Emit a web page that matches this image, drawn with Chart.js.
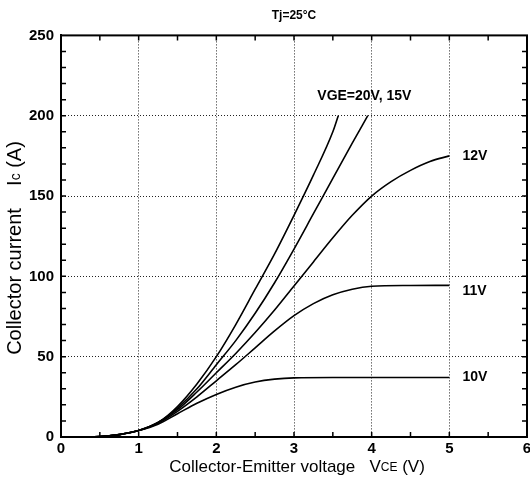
<!DOCTYPE html>
<html>
<head>
<meta charset="utf-8">
<script src="https://cdn.jsdelivr.net/npm/chart.js@4.4.0/dist/chart.umd.min.js"></script>
<style>
  html, body { margin: 0; padding: 0; background: #fff; }
  canvas { display: block; }
</style>
</head>
<body>
<canvas id="grafico" width="530" height="486"></canvas>
<script>
// DADOS (Vce em V, Ic em A)
const vce20 = [0, 0.5, 0.75, 1, 1.25, 1.5, 1.75, 2, 2.25, 2.5, 2.75, 3, 3.25, 3.5, 3.57];
const ic20  = [0, 0.3, 1.5, 4, 9, 19, 33, 50, 70, 92, 114, 138, 163, 190, 200];

const vce15 = [0, 0.5, 0.75, 1, 1.25, 1.5, 1.75, 2, 2.25, 2.5, 2.75, 3, 3.25, 3.5, 3.75, 3.95];
const ic15  = [0, 0.3, 1.5, 4, 9, 18, 30, 45, 60, 77, 96, 117, 139, 161, 183, 200];

const vce12 = [0, 0.5, 0.75, 1, 1.25, 1.5, 1.75, 2, 2.25, 2.5, 2.75, 3, 3.25, 3.5, 3.75, 4, 4.25, 4.5, 4.75, 5];
const ic12  = [0, 0.3, 1.5, 4, 9, 17, 28, 40, 52, 65, 79, 94, 109, 124, 138, 150, 159, 166, 171.5, 175];

const vce11 = [0, 0.5, 0.75, 1, 1.25, 1.5, 1.75, 2, 2.25, 2.5, 2.75, 3, 3.25, 3.5, 3.75, 4, 4.5, 5];
const ic11  = [0, 0.3, 1.5, 4, 8.5, 16, 25, 35, 45, 55.5, 66, 75.5, 83, 88.5, 92, 93.8, 94.3, 94.4];

const vce10 = [0, 0.5, 0.75, 1, 1.25, 1.5, 1.75, 2, 2.25, 2.5, 2.75, 3, 3.5, 4, 4.5, 5];
const ic10  = [0, 0.3, 1.5, 4, 8, 14.5, 21, 26.5, 31, 34.2, 36, 36.8, 37, 37, 37, 37];

// MARCAS MENORES DOS EIXOS
const xMarcas = [0.5, 1, 1.5, 2, 2.5, 3, 3.5, 4, 4.5, 5, 5.5];
const yMarcas = [10, 20, 30, 40, 50, 60, 70, 80, 90, 100, 110, 120, 130, 140, 150, 160, 170, 180, 190, 200, 210, 220, 230, 240];

// ROTULOS DAS CURVAS
const rotuloTexto = ['VGE=20V, 15V', '12V', '11V', '10V'];
const rotuloVce   = [3.3, 5.17, 5.17, 5.17];
const rotuloIc    = [212, 175, 91, 37];

const FONTE = '"Liberation Sans", Arial, sans-serif';

const pontos = (xs, ys) => xs.map((v, i) => ({ x: v, y: ys[i] }));

const curva = (label, xs, ys) => ({
  label,
  data: pontos(xs, ys),
  borderColor: '#000',
  borderWidth: 1.6,
  pointRadius: 0,
  fill: false,
  cubicInterpolationMode: 'monotone'
});

// texto em partes (para o subscrito)
function textoPartes(ctx, partes, cx, cy) {
  let total = 0;
  partes.forEach(p => {
    ctx.font = p[1] + 'px ' + FONTE;
    total += ctx.measureText(p[0]).width;
  });
  let pos = cx - total / 2;
  partes.forEach(p => {
    ctx.font = p[1] + 'px ' + FONTE;
    ctx.fillText(p[0], pos, cy + (p[2] || 0));
    pos += ctx.measureText(p[0]).width;
  });
}

const desenhos = {
  id: 'desenhos',
  afterDraw(chart) {
    const { ctx, chartArea: a, scales: { x, y } } = chart;
    ctx.save();

    // MOLDURA
    ctx.strokeStyle = '#000';
    ctx.lineWidth = 2;
    ctx.strokeRect(a.left, a.top, a.right - a.left, a.bottom - a.top);

    // MARCAS INTERNAS
    ctx.lineWidth = 1.5;
    ctx.beginPath();
    xMarcas.forEach(v => {
      const px = x.getPixelForValue(v);
      ctx.moveTo(px, a.bottom); ctx.lineTo(px, a.bottom - 5);
      ctx.moveTo(px, a.top); ctx.lineTo(px, a.top + 5);
    });
    yMarcas.forEach(v => {
      const py = y.getPixelForValue(v);
      ctx.moveTo(a.left, py); ctx.lineTo(a.left + 5, py);
      ctx.moveTo(a.right, py); ctx.lineTo(a.right - 5, py);
    });
    ctx.stroke();

    // ROTULOS
    ctx.fillStyle = '#000';
    ctx.font = 'bold 14px ' + FONTE;
    ctx.textAlign = 'left';
    ctx.textBaseline = 'middle';
    rotuloTexto.forEach((t, i) => {
      ctx.fillText(t, x.getPixelForValue(rotuloVce[i]), y.getPixelForValue(rotuloIc[i]));
    });

    // TITULO DO EIXO X
    textoPartes(ctx, [
      ['Collector-Emitter voltage', 17],
      ['   V', 17],
      ['CE', 12, 1],
      [' (V)', 17]
    ], (a.left + a.right) / 2 + 3, 467);

    // TITULO DO EIXO Y
    ctx.translate(15, 248);
    ctx.rotate(-Math.PI / 2);
    textoPartes(ctx, [
      ['Collector current', 20],
      ['    I', 20],
      ['c', 14, 1],
      [' (A)', 20]
    ], 0, 0);

    ctx.restore();
  }
};

new Chart(document.getElementById('grafico').getContext('2d'), {
  type: 'line',
  data: {
    datasets: [
      curva('VGE=20V', vce20, ic20),
      curva('VGE=15V', vce15, ic15),
      curva('VGE=12V', vce12, ic12),
      curva('VGE=11V', vce11, ic11),
      curva('VGE=10V', vce10, ic10)
    ]
  },
  options: {
    responsive: false,
    animation: false,
    devicePixelRatio: 1,
    layout: { padding: { left: 0, right: 3, top: 0, bottom: 0 } },
    plugins: {
      legend: { display: false },
      tooltip: { enabled: false },
      title: {
        display: true,
        fullSize: false,
        text: 'Tj=25°C',
        color: '#000',
        font: { family: FONTE, size: 12, weight: 'bold' },
        padding: { top: 8, bottom: 13 }
      }
    },
    scales: {
      x: {
        type: 'linear',
        min: 0,
        max: 6,
        afterFit: s => { s.height = 49; s.paddingLeft = 0; s.paddingRight = 0; },
        ticks: {
          stepSize: 1,
          color: '#000',
          padding: 3,
          font: { family: FONTE, size: 15, weight: 'bold' }
        },
        grid: { color: '#222', lineWidth: 1, drawTicks: false },
        border: { display: true, color: '#000', width: 2, dash: [1, 2] }
      },
      y: {
        min: 0,
        max: 250,
        afterFit: s => { s.width = 61; },
        ticks: {
          stepSize: 50,
          color: '#000',
          padding: 7,
          font: { family: FONTE, size: 15, weight: 'bold' }
        },
        grid: { color: '#222', lineWidth: 1, drawTicks: false },
        border: { display: true, color: '#000', width: 2, dash: [1, 2] }
      }
    }
  },
  plugins: [desenhos]
});
</script>
</body>
</html>
